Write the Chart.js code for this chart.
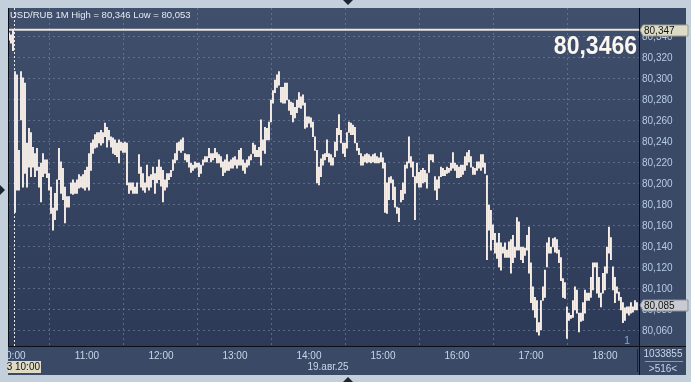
<!DOCTYPE html>
<html>
<head>
<meta charset="utf-8">
<script src="https://cdn.jsdelivr.net/npm/chart.js@4"></script>
<style>
  html, body { margin: 0; padding: 0; background: #c3cfdb; }
  #wrap { width: 691px; height: 382px; }
</style>
</head>
<body>
<div id="wrap"><canvas id="usdrub" width="691" height="382"></canvas></div>
<script>
const title = 'USD/RUB 1M High = 80,346 Low = 80,053';
const lastQuote = '80,3466';
const highValue = 80.347;
const closeValue = 80.085;
const dateLabel = '19.авг.25';
const cursorLabel = '3 10:00';
const volumeLabel = '1033855';
const barsLabel = '>516<';
const pageLabel = '1';

const hourLabels = ['10:00', '11:00', '12:00', '13:00', '14:00', '15:00', '16:00', '17:00', '18:00'];
const priceTicks = [80.06, 80.08, 80.10, 80.12, 80.14, 80.16, 80.18, 80.20, 80.22, 80.24, 80.26, 80.28, 80.30, 80.32, 80.34];

// one bar every ~1.6 min, 10:00 is the third bar
const barMinutes = 60 / 37;
const firstBarMinute = -2 * barMinutes;

const highs = [
  80.344, 80.342, 80.347, 80.307, 80.304, 80.232, 80.307, 80.301, 80.296, 80.239,
  80.253, 80.249, 80.235, 80.229, 80.234, 80.216, 80.220, 80.229, 80.223, 80.223,
  80.210, 80.197, 80.177, 80.191, 80.204, 80.234, 80.221, 80.215, 80.197, 80.188,
  80.188, 80.201, 80.204, 80.201, 80.204, 80.209, 80.207, 80.209, 80.213, 80.216,
  80.229, 80.239, 80.242, 80.247, 80.249, 80.249, 80.251, 80.249, 80.258, 80.254,
  80.251, 80.245, 80.244, 80.242, 80.239, 80.242, 80.240, 80.239, 80.240, 80.239,
  80.201, 80.201, 80.201, 80.197, 80.201, 80.228, 80.216, 80.210, 80.201, 80.218,
  80.207, 80.209, 80.216, 80.210, 80.216, 80.223, 80.216, 80.213, 80.204, 80.210,
  80.210, 80.213, 80.223, 80.229, 80.239, 80.240, 80.242, 80.244, 80.229, 80.228,
  80.228, 80.220, 80.218, 80.221, 80.220, 80.220, 80.218, 80.223, 80.226, 80.226,
  80.234, 80.229, 80.229, 80.234, 80.230, 80.228, 80.226, 80.221, 80.223, 80.228,
  80.221, 80.223, 80.225, 80.226, 80.223, 80.232, 80.234, 80.223, 80.220, 80.223,
  80.226, 80.228, 80.239, 80.237, 80.232, 80.235, 80.261, 80.242, 80.254, 80.253,
  80.259, 80.280, 80.289, 80.299, 80.304, 80.307, 80.292, 80.292, 80.296, 80.296,
  80.280, 80.278, 80.277, 80.273, 80.280, 80.287, 80.283, 80.285, 80.277, 80.264,
  80.264, 80.263, 80.259, 80.245, 80.232, 80.216, 80.224, 80.228, 80.229, 80.242,
  80.229, 80.228, 80.225, 80.240, 80.253, 80.266, 80.251, 80.239, 80.239, 80.249,
  80.259, 80.258, 80.256, 80.254, 80.239, 80.234, 80.229, 80.226, 80.228, 80.229,
  80.228, 80.226, 80.228, 80.229, 80.226, 80.225, 80.230, 80.225, 80.220, 80.201,
  80.206, 80.207, 80.204, 80.197, 80.178, 80.177, 80.194, 80.201, 80.218, 80.221,
  80.245, 80.226, 80.221, 80.207, 80.220, 80.211, 80.213, 80.215, 80.213, 80.210,
  80.228, 80.228, 80.228, 80.207, 80.204, 80.207, 80.216, 80.215, 80.213, 80.216,
  80.215, 80.220, 80.230, 80.220, 80.218, 80.216, 80.218, 80.218, 80.226, 80.230,
  80.232, 80.226, 80.216, 80.215, 80.221, 80.221, 80.228, 80.228, 80.220, 80.208,
  80.180, 80.175, 80.161, 80.153, 80.144, 80.153, 80.144, 80.140, 80.144, 80.137,
  80.145, 80.147, 80.151, 80.140, 80.168, 80.164, 80.140, 80.140, 80.139, 80.151,
  80.159, 80.125, 80.102, 80.092, 80.089, 80.068, 80.089, 80.102, 80.118, 80.144,
  80.149, 80.140, 80.148, 80.149, 80.147, 80.137, 80.130, 80.110, 80.106, 80.083,
  80.077, 80.075, 80.089, 80.102, 80.099, 80.077, 80.077, 80.087, 80.099, 80.096,
  80.096, 80.111, 80.125, 80.125, 80.125, 80.111, 80.096, 80.115, 80.121, 80.140,
  80.159, 80.149, 80.121, 80.111, 80.102, 80.097, 80.092, 80.087, 80.082, 80.083,
  80.083, 80.087, 80.083, 80.089, 80.087
];

const lows = [
  80.337, 80.334, 80.327, 80.173, 80.194, 80.194, 80.261, 80.197, 80.210, 80.197,
  80.216, 80.207, 80.216, 80.207, 80.213, 80.197, 80.183, 80.207, 80.210, 80.206,
  80.194, 80.172, 80.156, 80.166, 80.175, 80.204, 80.191, 80.185, 80.163, 80.178,
  80.178, 80.191, 80.190, 80.191, 80.191, 80.196, 80.197, 80.196, 80.194, 80.197,
  80.194, 80.213, 80.229, 80.234, 80.235, 80.239, 80.237, 80.239, 80.245, 80.235,
  80.242, 80.235, 80.229, 80.228, 80.226, 80.220, 80.232, 80.230, 80.230, 80.199,
  80.191, 80.194, 80.191, 80.191, 80.191, 80.210, 80.197, 80.194, 80.192, 80.197,
  80.194, 80.197, 80.204, 80.191, 80.201, 80.204, 80.198, 80.183, 80.194, 80.197,
  80.204, 80.207, 80.213, 80.220, 80.223, 80.232, 80.230, 80.232, 80.223, 80.221,
  80.216, 80.211, 80.213, 80.215, 80.216, 80.207, 80.210, 80.218, 80.221, 80.221,
  80.225, 80.221, 80.223, 80.225, 80.220, 80.220, 80.216, 80.208, 80.211, 80.213,
  80.213, 80.215, 80.215, 80.218, 80.215, 80.218, 80.218, 80.213, 80.210, 80.216,
  80.218, 80.223, 80.229, 80.226, 80.226, 80.226, 80.218, 80.232, 80.229, 80.242,
  80.242, 80.259, 80.277, 80.287, 80.292, 80.294, 80.278, 80.277, 80.277, 80.280,
  80.270, 80.266, 80.259, 80.263, 80.268, 80.273, 80.272, 80.275, 80.253, 80.254,
  80.258, 80.254, 80.245, 80.232, 80.201, 80.199, 80.207, 80.218, 80.223, 80.226,
  80.221, 80.218, 80.218, 80.226, 80.232, 80.247, 80.239, 80.229, 80.226, 80.234,
  80.249, 80.247, 80.247, 80.239, 80.232, 80.228, 80.218, 80.218, 80.221, 80.220,
  80.221, 80.220, 80.221, 80.220, 80.220, 80.220, 80.221, 80.215, 80.173, 80.172,
  80.185, 80.201, 80.185, 80.178, 80.172, 80.164, 80.183, 80.185, 80.191, 80.215,
  80.220, 80.216, 80.207, 80.166, 80.201, 80.197, 80.197, 80.201, 80.202, 80.196,
  80.211, 80.223, 80.221, 80.194, 80.185, 80.196, 80.207, 80.208, 80.208, 80.210,
  80.211, 80.213, 80.215, 80.213, 80.206, 80.206, 80.207, 80.209, 80.213, 80.218,
  80.221, 80.216, 80.209, 80.209, 80.213, 80.215, 80.213, 80.216, 80.210, 80.128,
  80.156, 80.137, 80.147, 80.134, 80.129, 80.121, 80.118, 80.134, 80.130, 80.130,
  80.130, 80.115, 80.125, 80.130, 80.137, 80.137, 80.128, 80.125, 80.132, 80.137,
  80.115, 80.087, 80.080, 80.073, 80.059, 80.056, 80.061, 80.089, 80.092, 80.121,
  80.134, 80.134, 80.140, 80.135, 80.134, 80.125, 80.108, 80.092, 80.091, 80.053,
  80.070, 80.072, 80.073, 80.080, 80.077, 80.059, 80.069, 80.070, 80.077, 80.089,
  80.089, 80.092, 80.099, 80.121, 80.096, 80.092, 80.083, 80.096, 80.099, 80.115,
  80.134, 80.128, 80.099, 80.087, 80.096, 80.089, 80.080, 80.068, 80.070, 80.077,
  80.075, 80.077, 80.078, 80.080, 80.080
];

const times = highs.map((_, i) => firstBarMinute + i * barMinutes);
const fmt = (v) => v.toFixed(3).replace('.', ',');
const FONT = '"Liberation Sans", Arial, sans-serif';

const frame = {
  id: 'frame',
  beforeDraw(chart) {
    const { ctx, chartArea: a } = chart;
    ctx.save();
    ctx.fillStyle = '#c3cfdb';
    ctx.fillRect(0, 0, chart.width, chart.height);
    ctx.fillStyle = '#3a4966';
    ctx.fillRect(8, 8, 678, 367);
    const g = ctx.createLinearGradient(0, a.top, 0, a.bottom);
    g.addColorStop(0, '#404f6c');
    g.addColorStop(1, '#2c3a57');
    ctx.fillStyle = g;
    ctx.fillRect(a.left, a.top, a.right - a.left, a.bottom - a.top);
    ctx.restore();
  },
  afterDatasetsDraw(chart) {
    const { ctx, chartArea: a, scales: { x, y } } = chart;
    ctx.save();
    // session start
    const sx = Math.round(x.getPixelForValue(0)) + 1.5;
    ctx.strokeStyle = '#e8e8ec';
    ctx.lineWidth = 1;
    ctx.setLineDash([2, 2]);
    ctx.beginPath();
    ctx.moveTo(sx, a.top);
    ctx.lineTo(sx, a.bottom);
    ctx.stroke();
    ctx.setLineDash([]);
    // high line
    const hy = y.getPixelForValue(highValue);
    ctx.strokeStyle = '#ece6de';
    ctx.lineWidth = 2;
    ctx.beginPath();
    ctx.moveTo(a.left, hy);
    ctx.lineTo(a.right, hy);
    ctx.stroke();
    ctx.restore();
  },
  afterDraw(chart) {
    const { ctx, chartArea: a, scales: { y } } = chart;
    ctx.save();
    // borders
    ctx.fillStyle = '#0c0f16';
    ctx.fillRect(a.right, 8, 1, 367);
    ctx.fillRect(8, a.bottom, 678, 1);
    ctx.fillRect(8, 8, 1, a.bottom - 8);
    ctx.fillStyle = '#1c2231';
    ctx.fillRect(a.right - 2, a.bottom + 3, 1, 23);
    // outer frame clips labels
    ctx.fillStyle = '#c3cfdb';
    ctx.fillRect(0, 0, 8, chart.height);
    ctx.fillRect(686, 0, 5, chart.height);
    ctx.fillRect(0, 375, chart.width, 7);
    ctx.fillRect(0, 0, chart.width, 8);

    ctx.textBaseline = 'middle';
    // header
    ctx.font = '9.5px ' + FONT;
    ctx.fillStyle = '#e6eaf2';
    ctx.textAlign = 'left';
    ctx.fillText(title, 10, 15);
    // last quote, slightly tall
    ctx.save();
    ctx.font = 'bold 23px ' + FONT;
    ctx.fillStyle = '#fbf6f0';
    ctx.textAlign = 'right';
    ctx.translate(a.right - 2, 47);
    ctx.scale(1, 1.15);
    ctx.fillText(lastQuote, 0, 0);
    ctx.restore();

    // price boxes on the axis
    const box = (val, bg, edge) => {
      const py = Math.round(y.getPixelForValue(val));
      ctx.fillStyle = bg;
      ctx.beginPath();
      ctx.moveTo(a.right + 1, py);
      ctx.lineTo(a.right + 4, py - 5);
      ctx.lineTo(688, py - 5);
      ctx.lineTo(688, py + 6);
      ctx.lineTo(a.right + 4, py + 6);
      ctx.closePath();
      ctx.fill();
      ctx.strokeStyle = edge;
      ctx.lineWidth = 1;
      ctx.stroke();
      ctx.fillStyle = '#111';
      ctx.font = '10px ' + FONT;
      ctx.textAlign = 'left';
      ctx.fillText(fmt(val), a.right + 5, py + 1);
    };
    box(highValue, '#dcdcc6', '#9c9c88');
    box(closeValue, '#c8ccd2', '#8c9098');

    // page number
    ctx.font = '11px ' + FONT;
    ctx.fillStyle = '#7fa6d6';
    ctx.textAlign = 'center';
    ctx.fillText(pageLabel, a.right - 12, a.bottom - 5);

    // bottom panel
    ctx.font = '10px ' + FONT;
    ctx.fillStyle = '#dedac4';
    ctx.fillRect(8, 361, 33, 12);
    ctx.fillStyle = '#111';
    ctx.textAlign = 'right';
    ctx.fillText(cursorLabel, 40, 367);
    ctx.fillStyle = '#c8d6ea';
    ctx.textAlign = 'center';
    ctx.fillText(dateLabel, 328, 367);
    ctx.fillText(volumeLabel, 663, 354);
    ctx.fillText(barsLabel, 663, 369);
    ctx.fillStyle = '#8a98b0';
    ctx.fillRect(645, 361, 38, 1);

    // scroll markers
    ctx.fillStyle = '#1c2536';
    ctx.beginPath();
    ctx.moveTo(343, 0); ctx.lineTo(353, 0); ctx.lineTo(348, 5); ctx.closePath(); ctx.fill();
    ctx.beginPath();
    ctx.moveTo(343, 382); ctx.lineTo(353, 382); ctx.lineTo(348, 377); ctx.closePath(); ctx.fill();
    ctx.beginPath();
    ctx.moveTo(0, 185); ctx.lineTo(5, 190); ctx.lineTo(0, 195); ctx.closePath(); ctx.fill();
    ctx.restore();
  }
};

const ctx = document.getElementById('usdrub').getContext('2d');
new Chart(ctx, {
  type: 'bar',
  data: {
    datasets: [{
      data: times.map((t, i) => ({ x: t, y: [lows[i], highs[i]] })),
      backgroundColor: '#fdf4ec',
      borderWidth: 0,
      barThickness: 1.2,
    }],
  },
  options: {
    responsive: false,
    animation: false,
    devicePixelRatio: 1,
    layout: { padding: { left: 8, top: 8, right: 5, bottom: 7 } },
    plugins: { legend: { display: false }, tooltip: { enabled: false } },
    scales: {
      x: {
        type: 'linear',
        min: -4.05,
        max: 507.6,
        offset: false,
        afterBuildTicks: (s) => { s.ticks = hourLabels.map((_, i) => ({ value: i * 60 })); },
        afterFit: (s) => { s.height = 29; s.paddingLeft = 0; s.paddingRight = 0; },
        ticks: {
          autoSkip: false,
          maxRotation: 0,
          padding: 4,
          color: '#c8d6ea',
          font: { family: FONT, size: 10 },
          callback: (v) => hourLabels[Math.round(v / 60)],
        },
        grid: { color: 'rgba(125,142,172,0.55)', drawTicks: false },
        border: { display: false, dash: [2, 3] },
      },
      y: {
        position: 'right',
        min: 80.0457,
        max: 80.3676,
        afterBuildTicks: (s) => { s.ticks = priceTicks.map((v) => ({ value: v })); },
        afterFit: (s) => { s.width = 47; s.paddingTop = 0; s.paddingBottom = 0; },
        ticks: {
          padding: 3,
          color: '#b6cbe6',
          font: { family: FONT, size: 10 },
          callback: (v) => fmt(v),
        },
        grid: { color: 'rgba(125,142,172,0.55)', drawTicks: false },
        border: { display: false, dash: [2, 3] },
      },
    },
  },
  plugins: [frame],
});
</script>
</body>
</html>
